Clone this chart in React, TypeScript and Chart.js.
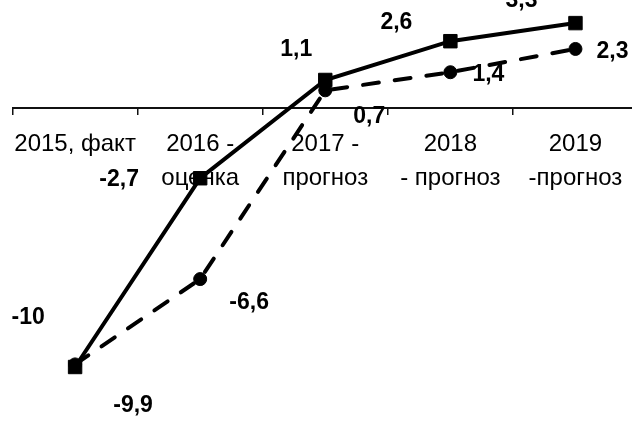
import React, { useEffect, useRef } from "react";
import { Chart, registerables } from "chart.js";

Chart.register(...registerables);

const categories: string[][] = [
  ["2015, факт"],
  ["2016 -", "оценка"],
  ["2017 -", "прогноз"],
  ["2018", "- прогноз"],
  ["2019", "-прогноз"],
];
const solidValues = [-10, -2.7, 1.1, 2.6, 3.3];
const dashedValues = [-9.9, -6.6, 0.7, 1.4, 2.3];

// label placement offsets (px) relative to each point
const solidLabelOffsets = [
  [-47, -49],
  [-81, 1],
  [-29, -30],
  [-54, -19],
  [-54, -22],
];
const dashedLabelOffsets = [
  [58, 41],
  [49, 24],
  [44, 26],
  [38, 2],
  [37, 3],
];

const Y_MIN = -12;
const Y_MAX = 4;

const fmt = (v: number) => String(v).replace(".", ",");

const labelPlugin = {
  id: "pointLabels",
  afterDatasetsDraw(chart: any) {
    const ctx = chart.ctx;
    ctx.save();
    ctx.font = "bold 23px 'Liberation Sans', Arial, sans-serif";
    ctx.fillStyle = "#000";
    ctx.textAlign = "center";
    ctx.textBaseline = "middle";
    chart.data.datasets.forEach((ds: any, i: number) => {
      const meta = chart.getDatasetMeta(i);
      const offsets = ds.labelOffsets as number[][];
      meta.data.forEach((pt: any, j: number) => {
        const v = ds.data[j];
        const [dx, dy] = offsets[j];
        ctx.fillText(fmt(v), pt.x + dx, pt.y + dy);
      });
    });
    ctx.restore();
  },
};

export default function App() {
  const ref = useRef<HTMLCanvasElement | null>(null);

  useEffect(() => {
    if (!ref.current) return;
    const chart = new Chart(ref.current, {
      type: "line",
      data: {
        labels: categories as any,
        datasets: [
          {
            label: "solid",
            data: solidValues,
            borderColor: "#000",
            backgroundColor: "#000",
            borderWidth: 4,
            pointStyle: "rect",
            pointRadius: 9.5,
            pointBorderWidth: 1,
            pointBackgroundColor: "#000",
            pointBorderColor: "#000",
            tension: 0,
            labelOffsets: solidLabelOffsets,
          } as any,
          {
            label: "dashed",
            data: dashedValues,
            borderColor: "#000",
            backgroundColor: "#000",
            borderWidth: 4,
            borderDash: [16, 16],
            borderCapStyle: "round",
            pointStyle: "circle",
            pointRadius: 6.5,
            pointBorderWidth: 1,
            pointBackgroundColor: "#000",
            pointBorderColor: "#000",
            tension: 0,
            labelOffsets: dashedLabelOffsets,
          } as any,
        ],
      },
      options: {
        responsive: false,
        animation: false,
        devicePixelRatio: 1,
        layout: {
          autoPadding: false,
          padding: { left: 11, right: 12, top: 5, bottom: 4.3 },
        },
        plugins: {
          legend: { display: false },
          tooltip: { enabled: false },
        },
        scales: {
          x: {
            type: "category",
            position: { y: 0 } as any,
            offset: true,
            afterFit: (scale: any) => {
              scale.height = 0;
            },
            border: { display: true, color: "#111", width: 2 },
            grid: {
              offset: true,
              drawOnChartArea: false,
              drawTicks: true,
              tickLength: 6,
              color: "#111",
              lineWidth: 1.5,
            },
            ticks: {
              color: "#000",
              padding: 13.2,
              maxRotation: 0,
              autoSkip: false,
              font: {
                family: "'Liberation Sans', Arial, sans-serif",
                size: 24,
                lineHeight: 34 / 24,
              },
            },
          },
          y: {
            display: false,
            min: Y_MIN,
            max: Y_MAX,
          },
        },
      },
      plugins: [labelPlugin],
    });
    return () => chart.destroy();
  }, []);

  return (
    <div
      style={{
        position: "absolute",
        left: 0,
        top: 0,
        width: 632,
        height: 423,
        overflow: "hidden",
        background: "#fff",
      }}
    >
      <canvas ref={ref} width={650} height={423} style={{ display: "block" }} />
    </div>
  );
}
